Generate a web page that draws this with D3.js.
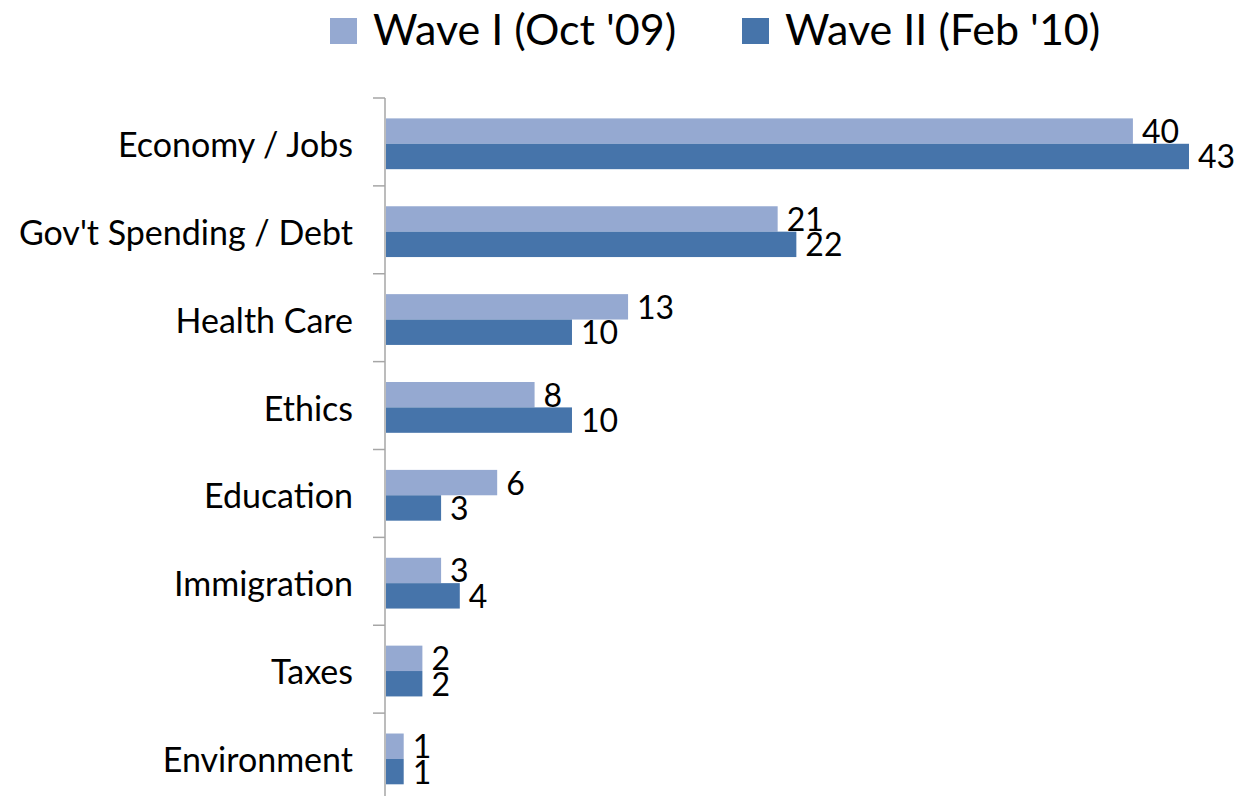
<!DOCTYPE html>
<html>
<head>
<meta charset="utf-8">
<script src="https://cdn.jsdelivr.net/npm/d3@7"></script>
<style>
  body { margin: 0; background: #fff; }
  text { font-family: Lato, "Open Sans", sans-serif; fill: #000; }
</style>
</head>
<body>
<script>
const width = 1247;
const height = 796;

// data
const categories = ['Economy / Jobs', "Gov't Spending / Debt", 'Health Care', 'Ethics',
                    'Education', 'Immigration', 'Taxes', 'Environment'];
const seriesNames = ["Wave I (Oct '09)", "Wave II (Feb '10)"];
const wave1 = [40, 21, 13, 8, 6, 3, 2, 1];
const wave2 = [43, 22, 10, 10, 3, 4, 2, 1];
const colors = ['#95a9d1', '#4674aa'];

const rows = categories.map((c, i) => ({ cat: c, values: [wave1[i], wave2[i]] }));

const svg = d3.select('body').append('svg').attr('width', width).attr('height', height);

const x = d3.scaleLinear().domain([0, 43]).range([385, 1189]);
const y = d3.scaleBand().domain(categories).range([98, 801]);
const ySub = d3.scaleBand().domain(d3.range(2))
    .range([y.bandwidth() * 0.232, y.bandwidth() * 0.81]);

// axis line + ticks at category boundaries
const axis = svg.append('g').attr('stroke', '#a6a6a6').attr('stroke-width', 1.5);
axis.append('line').attr('x1', x(0)).attr('x2', x(0)).attr('y1', y.range()[0]).attr('y2', y.range()[1]);
axis.selectAll('.tick')
    .data(categories)
    .enter()
    .append('line')
    .attr('x1', x(0) - 12).attr('x2', x(0))
    .attr('y1', d => y(d)).attr('y2', d => y(d));

// category labels
svg.selectAll('.cat')
    .data(categories)
    .enter()
    .append('text')
    .attr('class', 'cat')
    .attr('x', 353)
    .attr('y', d => y(d) + y.bandwidth() / 2 + 15)
    .attr('text-anchor', 'end')
    .style('font-size', '34px')
    .text(d => d);

// bars
const groups = svg.selectAll('.grp')
    .data(rows)
    .enter()
    .append('g')
    .attr('transform', d => `translate(0,${y(d.cat)})`);

groups.selectAll('rect')
    .data(d => d.values)
    .enter()
    .append('rect')
    .attr('x', x(0) + 1)
    .attr('y', (d, i) => ySub(i))
    .attr('width', d => x(d) - x(0) - 1)
    .attr('height', ySub.bandwidth())
    .attr('fill', (d, i) => colors[i]);

groups.selectAll('.val')
    .data(d => d.values)
    .enter()
    .append('text')
    .attr('class', 'val')
    .attr('x', d => x(d) + 9)
    .attr('y', (d, i) => ySub(i) + ySub.bandwidth() / 2 + 12)
    .style('font-size', '32px')
    .text(d => d);

// legend
const legendX = [330, 742];
const legend = svg.selectAll('.leg')
    .data(seriesNames)
    .enter()
    .append('g')
    .attr('transform', (d, i) => `translate(${legendX[i]},0)`);

legend.append('rect')
    .attr('x', 0).attr('y', 18)
    .attr('width', 27).attr('height', 26)
    .attr('fill', (d, i) => colors[i]);

legend.append('text')
    .attr('x', 43)
    .attr('y', 45)
    .style('font-size', '43px')
    .text(d => d);
</script>
</body>
</html>
